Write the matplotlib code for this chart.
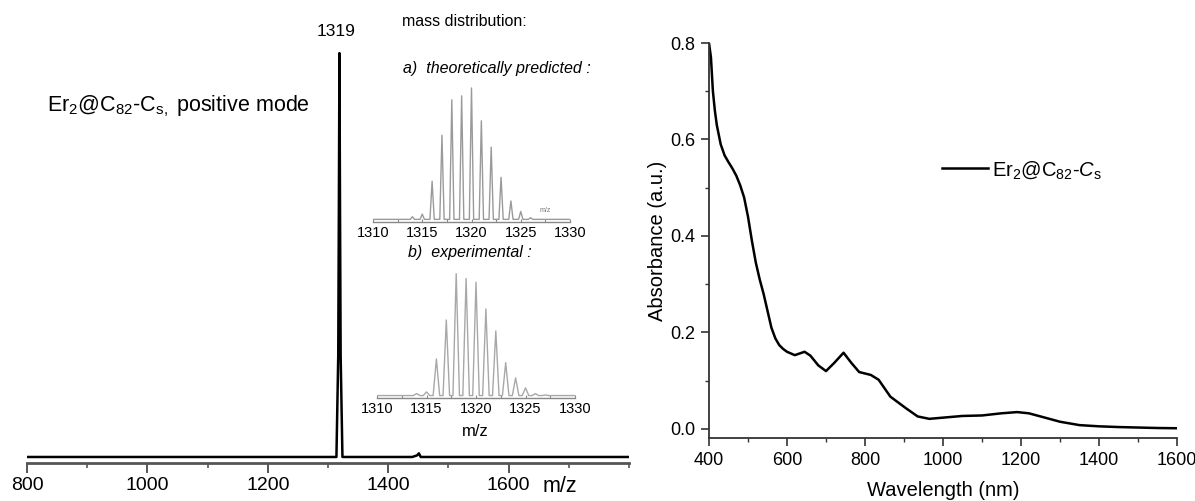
import matplotlib
matplotlib.use('Agg')
import matplotlib.pyplot as plt
from matplotlib.ticker import MultipleLocator

plt.rcParams['font.family'] = ['Liberation Sans', 'DejaVu Sans']
plt.rcParams['mathtext.fontset'] = 'custom'
plt.rcParams['mathtext.rm'] = 'Liberation Sans'
plt.rcParams['mathtext.it'] = 'Liberation Sans:italic'
plt.rcParams['mathtext.bf'] = 'Liberation Sans:bold'
plt.rcParams['mathtext.default'] = 'regular'

# ---------------- data ----------------
# main mass spectrum (relative intensity)
ms_mz = [800, 1100, 1300, 1314, 1317, 1318, 1319, 1320, 1321, 1324, 1440, 1448, 1451, 1454, 1800]
ms_int = [0, 0, 0, 0, 0.25, 0.60, 1.00, 0.60, 0.25, 0, 0, 0.004, 0.009, 0, 0]
ms_ticks = [800, 1000, 1200, 1400, 1600]

# inset a) theoretical isotope distribution
theo_mz = [1314, 1315, 1316, 1317, 1318, 1319, 1320, 1321, 1322, 1323, 1324, 1325, 1326]
theo_int = [0.02, 0.04, 0.29, 0.64, 0.91, 0.94, 1.00, 0.75, 0.55, 0.32, 0.14, 0.06, 0.013]

# inset b) experimental isotope distribution
exp_mz = [1314, 1315, 1316, 1317, 1318, 1319, 1320, 1321, 1322, 1323, 1324, 1325, 1326, 1327]
exp_int = [0.016, 0.03, 0.30, 0.62, 1.00, 0.96, 0.93, 0.71, 0.53, 0.27, 0.145, 0.063, 0.016, 0.005]
inset_ticks = [1310, 1315, 1320, 1325, 1330]

# UV-vis-NIR absorption
uv_wl = [400, 405, 410, 415, 420, 430, 440, 450, 460, 470, 480, 490, 500, 510, 520, 530, 540,
         550, 560, 570, 580, 590, 600, 620, 645, 660, 680, 700, 720, 745, 765, 785, 815, 835,
         865, 905, 935, 965, 1000, 1050, 1100, 1150, 1190, 1220, 1250, 1300, 1350, 1400,
         1450, 1500, 1550, 1600]
uv_abs = [0.800, 0.770, 0.700, 0.660, 0.630, 0.590, 0.567, 0.553, 0.540, 0.525, 0.505, 0.480,
          0.440, 0.390, 0.345, 0.310, 0.280, 0.245, 0.210, 0.188, 0.174, 0.166, 0.160, 0.153,
          0.160, 0.152, 0.132, 0.120, 0.136, 0.158, 0.137, 0.118, 0.112, 0.102, 0.067, 0.043,
          0.026, 0.021, 0.0235, 0.027, 0.028, 0.0325, 0.035, 0.0325, 0.026, 0.015, 0.008,
          0.0055, 0.004, 0.003, 0.002, 0.0015]
uv_xticks = [400, 600, 800, 1000, 1200, 1400, 1600]
uv_yticks = [0.0, 0.2, 0.4, 0.6, 0.8]

# ---------------- helpers ----------------
W, H = 1195, 501
fig = plt.figure(figsize=(W / 100, H / 100), dpi=100)


def px_axes(left, right, top, bottom):
    return fig.add_axes([left / W, 1 - bottom / H, (right - left) / W, (bottom - top) / H])


def fig_text(x, y, s, **kw):
    fig.text(x / W, 1 - y / H, s, **kw)


def stick_profile(mz, ints, hw, lo, hi):
    xs, ys = [lo], [0]
    for m, h in zip(mz, ints):
        xs += [m - hw, m, m + hw]
        ys += [0, h, 0]
    xs.append(hi)
    ys.append(0)
    return xs, ys


# ---------------- left: mass spectrum ----------------
ax = px_axes(27, 629, 45, 463)
ax.plot(ms_mz, ms_int, color='black', lw=1.8)
ax.set_xlim(800, 1800)
ax.set_ylim(-0.0149, 1.02)
for s in ['left', 'top', 'right']:
    ax.spines[s].set_visible(False)
ax.spines['bottom'].set_color('#555555')
ax.spines['bottom'].set_linewidth(2.0)
ax.set_yticks([])
ax.set_xticks(ms_ticks)
ax.set_xticklabels([str(t) for t in ms_ticks])
ax.xaxis.set_minor_locator(MultipleLocator(100))
ax.tick_params(axis='x', which='major', direction='out', length=7, width=1.4,
               color='#555555', labelsize=14, pad=3)
ax.tick_params(axis='x', which='minor', direction='out', length=3.5, width=1.2, color='#555555')
ax.patch.set_alpha(0)

fig_text(560, 487, 'm/z', fontsize=15.5, ha='center', va='center')
fig_text(336, 32, '1319', fontsize=12.5, ha='center', va='center')
fig_text(47, 106, r'Er$_2$@C$_{82}$-C$_{s,}$ positive mode', fontsize=15.5, ha='left', va='center')

# mass distribution header
fig_text(402, 22, 'mass distribution:', fontsize=11.5, ha='left', va='center')
fig_text(403, 69, 'a)  theoretically predicted :', fontsize=11.5, style='italic', ha='left', va='center')
fig_text(408, 253, 'b)  experimental :', fontsize=11.5, style='italic', ha='left', va='center')

# inset a
axa = px_axes(373, 570, 84, 222)
xa, ya = stick_profile(theo_mz, theo_int, 0.22, 1310, 1330)
axa.plot(xa, ya, color='#9a9a9a', lw=1.0)
axa.set_xlim(1310, 1330)
axa.set_ylim(-0.02, 1.03)
# inset b
axb = px_axes(377, 575, 270, 398)
xb, yb = stick_profile(exp_mz, exp_int, 0.33, 1310, 1330)
axb.plot(xb, yb, color='#a8a8a8', lw=1.0)
axb.set_xlim(1310, 1330)
axb.set_ylim(-0.02, 1.03)

for a in (axa, axb):
    for s in ['left', 'top', 'right']:
        a.spines[s].set_visible(False)
    a.spines['bottom'].set_color('#888888')
    a.spines['bottom'].set_linewidth(1.0)
    a.set_yticks([])
    a.set_xticks(inset_ticks)
    a.set_xticklabels([str(t) for t in inset_ticks])
    a.xaxis.set_minor_locator(MultipleLocator(2.5))
    a.tick_params(axis='x', which='both', direction='in', length=2, width=0.8,
                  color='#888888', labelsize=10.5, pad=3)
    a.patch.set_alpha(0)

fig_text(545, 211, 'm/z', fontsize=5, color='#777777', ha='center', va='center')
fig_text(475, 431, 'm/z', fontsize=12, ha='center', va='center')

# ---------------- right: UV-vis-NIR ----------------
ax2 = px_axes(709, 1177, 43, 438)
ax2.plot(uv_wl, uv_abs, color='black', lw=1.8,
         label=r'Er$_2$@C$_{82}$-$\mathit{C}_\mathrm{s}$')
ax2.set_xlim(400, 1600)
ax2.set_ylim(-0.0187, 0.8)
for s in ['top', 'right']:
    ax2.spines[s].set_visible(False)
for s in ['left', 'bottom']:
    ax2.spines[s].set_color('#333333')
    ax2.spines[s].set_linewidth(1.3)
ax2.set_xticks(uv_xticks)
ax2.set_xticklabels([str(t) for t in uv_xticks])
ax2.set_yticks(uv_yticks)
ax2.set_yticklabels([f'{t:.1f}' for t in uv_yticks])
ax2.xaxis.set_minor_locator(MultipleLocator(100))
ax2.yaxis.set_minor_locator(MultipleLocator(0.1))
ax2.tick_params(which='major', direction='out', length=6, width=1.2, color='#333333',
                labelsize=13, pad=4)
ax2.tick_params(which='minor', direction='out', length=3, width=1.0, color='#333333')
ax2.set_xlabel('Wavelength (nm)', fontsize=14.5, labelpad=9)
ax2.set_ylabel('Absorbance (a.u.)', fontsize=14.5, labelpad=2)
ax2.legend(loc='center left', bbox_to_anchor=(942 / W, 1 - 170 / H),
           bbox_transform=fig.transFigure, frameon=False, fontsize=14.5,
           handlelength=2.3, handletextpad=0.2, borderpad=0, borderaxespad=0)

fig.savefig('out.png', dpi=100)
